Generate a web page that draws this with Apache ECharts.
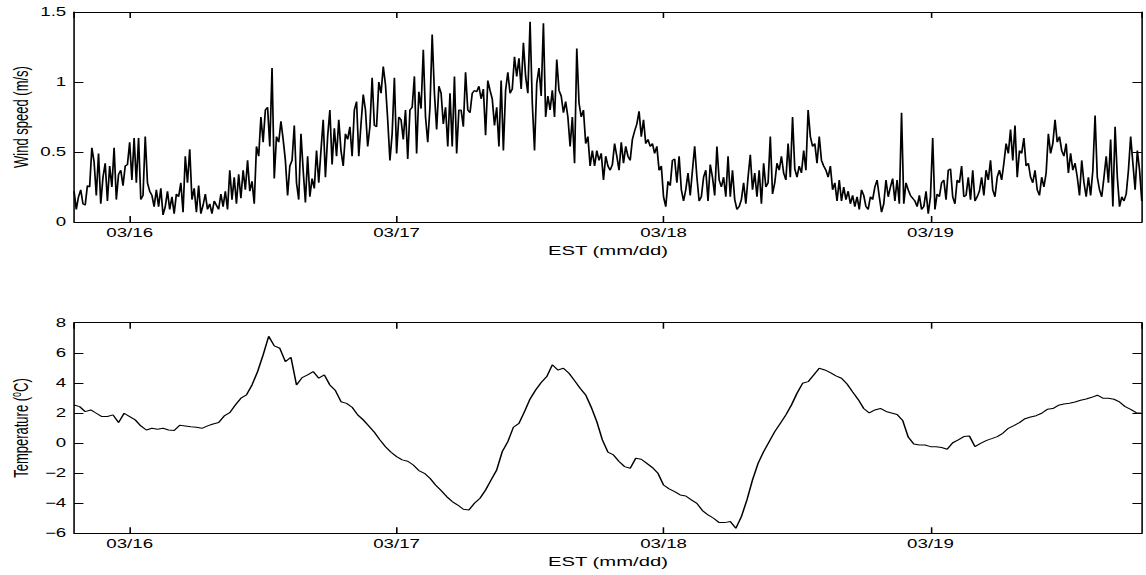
<!DOCTYPE html>
<html>
<head>
<meta charset="utf-8">
<title>Wind speed and temperature, 03/15 - 03/19</title>
<script src="https://cdn.jsdelivr.net/npm/echarts@6/dist/echarts.min.js"></script>
<style>
  html, body { margin: 0; padding: 0; background: #fff; overflow: hidden; }
  #wrap { width: 1146px; height: 575px; overflow: hidden; }
  /* the figure is laid out on a narrower canvas and widened to the page */
  #chart { width: 735px; height: 575px; transform-origin: 0 0; transform: scaleX(1.5591837); }
</style>
</head>
<body>
<div id="wrap"><div id="chart"></div></div>
<script>
// ---- series data (EST) ----
const seriesStart = new Date(2012, 2, 15, 19, 0).getTime();   // 03/15 19:00
const seriesEnd   = new Date(2012, 2, 19, 19, 0).getTime();   // 03/19 19:00
const windStepMinutes = 12;
const tempStepMinutes = 30;

// wind speed, m/s, every 12 minutes
const windSpeed = [
  0.22,0.09,0.18,0.23,0.13,0.12,0.26,0.25,0.53,0.43,
  0.19,0.49,0.13,0.32,0.42,0.15,0.40,0.25,0.53,0.16,
  0.34,0.37,0.26,0.40,0.41,0.57,0.30,0.60,0.28,0.60,
  0.16,0.19,0.61,0.28,0.22,0.19,0.11,0.23,0.11,0.24,
  0.05,0.11,0.22,0.09,0.18,0.06,0.20,0.18,0.28,0.07,
  0.47,0.28,0.52,0.16,0.24,0.07,0.26,0.06,0.12,0.20,
  0.09,0.13,0.06,0.15,0.12,0.09,0.20,0.11,0.22,0.09,
  0.37,0.16,0.32,0.13,0.34,0.17,0.37,0.23,0.44,0.22,
  0.29,0.13,0.54,0.47,0.75,0.57,0.80,0.82,0.54,1.10,
  0.31,0.61,0.57,0.72,0.59,0.44,0.19,0.40,0.44,0.69,
  0.28,0.16,0.63,0.37,0.14,0.47,0.18,0.31,0.24,0.51,
  0.28,0.51,0.73,0.32,0.61,0.80,0.41,0.67,0.47,0.73,
  0.51,0.40,0.63,0.59,0.68,0.47,0.80,0.86,0.47,0.70,
  0.91,0.80,0.54,0.68,1.03,0.69,0.68,1.00,0.92,1.11,
  0.98,0.73,0.44,0.63,1.03,0.49,0.75,0.73,0.59,0.80,
  0.45,0.80,0.82,1.04,0.49,0.93,0.81,1.23,0.75,0.57,
  0.82,1.34,0.92,0.66,0.97,0.92,0.70,0.82,0.54,0.92,
  0.54,1.04,0.49,0.80,0.80,0.68,1.07,0.80,0.78,0.92,
  0.94,0.93,0.97,0.88,0.95,0.62,1.01,0.94,0.88,0.69,
  0.82,0.54,1.01,0.51,0.94,1.07,0.92,0.95,1.18,1.04,
  1.17,0.95,1.28,1.04,0.92,1.43,0.85,0.51,0.99,1.10,
  0.90,1.42,0.75,0.90,0.80,0.94,0.75,1.16,0.94,0.90,
  0.78,0.86,0.75,0.54,0.75,0.42,1.24,0.85,0.75,0.80,
  0.56,0.61,0.40,0.51,0.40,0.51,0.44,0.49,0.30,0.47,
  0.40,0.37,0.41,0.56,0.47,0.37,0.57,0.42,0.54,0.47,
  0.44,0.59,0.65,0.70,0.79,0.61,0.73,0.56,0.59,0.54,
  0.56,0.49,0.54,0.37,0.40,0.18,0.11,0.29,0.26,0.44,
  0.45,0.28,0.47,0.23,0.15,0.23,0.35,0.19,0.37,0.54,
  0.32,0.15,0.18,0.32,0.37,0.15,0.41,0.32,0.19,0.54,
  0.30,0.25,0.32,0.18,0.47,0.18,0.37,0.16,0.09,0.11,
  0.16,0.28,0.13,0.32,0.48,0.23,0.35,0.18,0.37,0.13,
  0.42,0.25,0.28,0.61,0.20,0.28,0.42,0.37,0.47,0.35,
  0.30,0.56,0.32,0.75,0.38,0.32,0.40,0.35,0.51,0.37,
  0.80,0.61,0.54,0.56,0.42,0.61,0.44,0.40,0.37,0.32,
  0.40,0.23,0.28,0.15,0.30,0.15,0.25,0.16,0.22,0.13,
  0.19,0.11,0.18,0.09,0.23,0.19,0.11,0.09,0.18,
  0.16,0.25,0.30,0.18,0.07,0.13,0.30,0.18,0.25,0.31,
  0.15,0.30,0.13,0.78,0.13,0.28,0.23,0.19,0.17,0.15,
  0.11,0.19,0.09,0.11,0.22,0.06,0.18,0.60,0.09,0.20,
  0.18,0.28,0.30,0.16,0.37,0.38,0.18,0.13,0.30,0.28,
  0.40,0.18,0.19,0.32,0.16,0.37,0.15,0.18,0.22,0.32,
  0.19,0.37,0.30,0.44,0.23,0.18,0.32,0.37,0.30,0.42,
  0.56,0.49,0.66,0.44,0.69,0.32,0.51,0.49,0.60,0.40,
  0.42,0.32,0.28,0.37,0.23,0.19,0.32,0.25,0.35,0.63,
  0.49,0.56,0.73,0.57,0.61,0.51,0.47,0.56,0.35,0.49,
  0.37,0.42,0.32,0.19,0.44,0.28,0.18,0.32,0.19,0.37,
  0.76,0.32,0.23,0.18,0.32,0.47,0.28,0.59,0.11,0.68,
  0.32,0.11,0.18,0.15,0.20,0.37,0.61,0.42,0.23,0.51,
  0.37,0.15
];

// air temperature, deg C, every 30 minutes
const temperature = [
  2.53,2.42,2.09,2.20,1.98,1.76,1.76,1.87,1.36,1.98,
  1.76,1.54,1.14,0.87,0.98,0.91,0.98,0.87,0.83,1.18,
  1.14,1.09,1.05,0.98,1.14,1.27,1.36,1.80,2.02,2.53,
  2.98,3.20,3.86,4.75,5.86,7.10,6.46,6.30,5.41,5.70,
  3.86,4.35,4.53,4.75,4.31,4.53,3.86,3.49,2.75,2.64,
  2.38,1.87,1.54,1.14,0.72,0.21,-0.24,-0.61,-0.90,-1.12,
  -1.21,-1.46,-1.83,-2.01,-2.34,-2.79,-3.16,-3.56,-3.89,-4.12,
  -4.40,-4.45,-4.00,-3.67,-3.12,-2.45,-1.79,-0.57,0.09,1.05,
  1.31,2.09,2.93,3.53,4.02,4.42,5.20,4.86,4.97,4.64,
  4.15,3.64,3.20,2.38,1.42,0.21,-0.61,-0.79,-1.23,-1.57,
  -1.68,-1.01,-1.08,-1.35,-1.63,-2.01,-2.79,-3.05,-3.23,-3.45,
  -3.52,-3.78,-4.01,-4.49,-4.78,-5.00,-5.29,-5.29,-5.22,-5.67,
  -4.89,-3.78,-2.45,-1.35,-0.57,0.09,0.76,1.31,1.87,2.53,
  3.31,3.97,4.08,4.53,4.97,4.86,4.68,4.46,4.31,3.93,
  3.40,2.90,2.30,2.00,2.20,2.30,2.10,2.00,1.90,1.50,
  0.40,-0.06,-0.13,-0.13,-0.24,-0.24,-0.30,-0.41,0.02,0.21,
  0.43,0.47,-0.24,-0.02,0.16,0.29,0.43,0.65,0.98,1.16,
  1.36,1.62,1.73,1.82,1.98,2.24,2.29,2.51,2.60,2.64,
  2.73,2.84,2.93,3.04,3.18,2.98,2.98,2.91,2.73,2.42,
  2.24,2.02,1.98
];

// axis settings
const windTicks = { min: 0, max: 1.5, interval: 0.5 };
const tempTicks = { min: -6, max: 8, interval: 2 };
const xTitle = 'EST (mm/dd)';
const windTitle = 'Wind speed (m/s)';
const tempTitle = 'Temperature ({sup|o}C)';

// ---- build ----
const FONT = '"Liberation Sans", Arial, Helvetica, sans-serif';
const DAY = 24 * 3600 * 1000;
const toPairs = (vals, stepMin) => vals.map((v, i) => [seriesStart + i * stepMin * 60000, v]);
const pad2 = n => (n < 10 ? '0' : '') + n;
const dayLabel = v => {
  const d = new Date(v);
  if (d.getHours() !== 0 || d.getMinutes() !== 0) return '';
  return pad2(d.getMonth() + 1) + '/' + pad2(d.getDate());
};
const minusSign = v => String(v).replace('-', '\u2212');

const black = '#000';
const tickStyle = { inside: true, length: 6, lineStyle: { color: black, width: 1 } };
const lineStyle = { lineStyle: { color: black, width: 1 } };

const gridTop = { left: 47.5, top: 12, width: 684.8, height: 210, containLabel: false, outerBoundsMode: 'none' };
const gridBot = { left: 47.5, top: 322.7, width: 684.8, height: 210.6, containLabel: false, outerBoundsMode: 'none' };

function timeAxis(gridIndex, position, labelled) {
  const ax = {
    type: 'time', gridIndex, position,
    min: seriesStart, max: seriesEnd,
    minInterval: DAY, maxInterval: DAY,
    axisLine: Object.assign({ onZero: false }, lineStyle),
    axisTick: tickStyle,
    splitLine: { show: false },
    axisLabel: { show: labelled, formatter: dayLabel, color: black, fontSize: 12, fontFamily: FONT, margin: 5, hideOverlap: false },
    axisPointer: { show: false }
  };
  if (labelled) {
    ax.name = xTitle;
    ax.nameLocation = 'middle';
    ax.nameGap = 22;
    ax.nameMoveOverlap = false;
    ax.nameTextStyle = { color: black, fontSize: 13, fontFamily: FONT };
  }
  return ax;
}

function valueAxis(gridIndex, position, ticks, title, gap) {
  const labelled = !!title;
  const ax = {
    type: 'value', gridIndex, position,
    min: ticks.min, max: ticks.max, interval: ticks.interval,
    axisLine: Object.assign({ show: true, onZero: false }, lineStyle),
    axisTick: Object.assign({ show: true }, tickStyle),
    splitLine: { show: false },
    axisLabel: { show: labelled, formatter: minusSign, color: black, fontSize: 12, fontFamily: FONT, margin: 5 }
  };
  if (labelled) {
    ax.name = title;
    ax.nameLocation = 'middle';
    ax.nameGap = gap;
    ax.nameMoveOverlap = false;
    ax.nameTextStyle = {
      color: black, fontSize: 13, fontFamily: FONT, lineHeight: 16,
      rich: { sup: { fontSize: 9, fontFamily: FONT, color: black, verticalAlign: 'top', lineHeight: 16 } }
    };
  }
  return ax;
}

const chart = echarts.init(document.getElementById('chart'), null, { renderer: 'svg' });
chart.setOption({
  animation: false,
  backgroundColor: '#fff',
  grid: [gridTop, gridBot],
  xAxis: [
    timeAxis(0, 'bottom', true),
    timeAxis(0, 'top', false),
    timeAxis(1, 'bottom', true),
    timeAxis(1, 'top', false)
  ],
  yAxis: [
    valueAxis(0, 'left', windTicks, windTitle, 26),
    valueAxis(0, 'right', windTicks, '', 0),
    valueAxis(1, 'left', tempTicks, tempTitle, 26),
    valueAxis(1, 'right', tempTicks, '', 0)
  ],
  series: [
    {
      name: 'Wind speed', type: 'line', xAxisIndex: 0, yAxisIndex: 0,
      data: toPairs(windSpeed, windStepMinutes),
      showSymbol: false, symbol: 'none', lineStyle: { color: black, width: 1.1 }, silent: true
    },
    {
      name: 'Temperature', type: 'line', xAxisIndex: 2, yAxisIndex: 2,
      data: toPairs(temperature, tempStepMinutes),
      showSymbol: false, symbol: 'none', lineStyle: { color: black, width: 1 }, silent: true
    }
  ]
});
</script>
</body>
</html>
